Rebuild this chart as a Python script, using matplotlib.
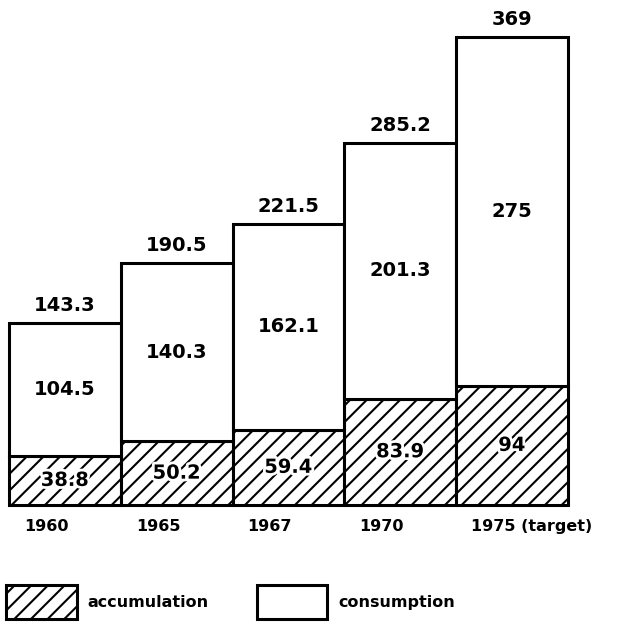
import matplotlib.pyplot as plt
import matplotlib.patheffects as pe
from matplotlib.patches import Patch

years = ["1960", "1965", "1967", "1970", "1975 (target)"]
accumulation = [38.8, 50.2, 59.4, 83.9, 94]
consumption = [104.5, 140.3, 162.1, 201.3, 275]
totals = [143.3, 190.5, 221.5, 285.2, 369]

plt.rcParams["hatch.linewidth"] = 1.5
plt.rcParams["font.family"] = ["DejaVu Sans"]

fig = plt.figure(figsize=(6.25, 6.25), dpi=100)
ax = fig.add_axes([0.0144, 0.192, 0.894, 0.749])

x = list(range(len(years)))

ax.bar(x, accumulation, width=1.0, color="white", edgecolor="black",
       hatch="//", linewidth=2.2, clip_on=False)
ax.bar(x, consumption, width=1.0, bottom=accumulation, color="white",
       edgecolor="black", linewidth=2.2, clip_on=False)

halo = [pe.withStroke(linewidth=4, foreground="white")]

for i in x:
    ax.text(i, accumulation[i] / 2, f"{accumulation[i]:g}", ha="center",
            va="center", fontsize=14, fontweight="bold", path_effects=halo)
    ax.text(i, accumulation[i] + consumption[i] / 2, f"{consumption[i]:g}",
            ha="center", va="center", fontsize=14, fontweight="bold")
    ax.annotate(f"{totals[i]:g}", (i, totals[i]), xytext=(0, 6),
                textcoords="offset points", ha="center", va="bottom",
                fontsize=14, fontweight="bold", annotation_clip=False)
    ax.annotate(years[i], (i - 0.5, 0), xytext=(15, -14),
                textcoords="offset pixels", ha="left", va="top",
                fontsize=11.5, fontweight="bold", annotation_clip=False)

ax.set_xlim(-0.5, 4.5)
ax.set_ylim(0, 369)
ax.axis("off")

handles = [
    Patch(facecolor="white", edgecolor="black", hatch="//", linewidth=2.2),
    Patch(facecolor="white", edgecolor="black", linewidth=2.2),
]
fig.legend(handles, ["accumulation", "consumption"], loc="center left",
           bbox_to_anchor=(0.01, 0.037), ncol=2, frameon=False,
           handlelength=4.4, handleheight=2.9, handletextpad=0.7,
           columnspacing=3.0, borderpad=0, borderaxespad=0,
           prop={"size": 11.5, "weight": "bold"})

fig.savefig("out.png", dpi=100, facecolor="white")
